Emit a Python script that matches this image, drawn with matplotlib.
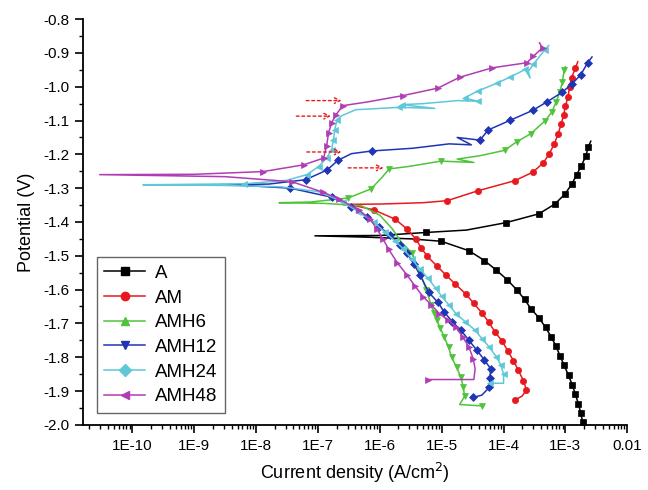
import numpy as np
import matplotlib
matplotlib.use('Agg')
import matplotlib.pyplot as plt
from matplotlib.lines import Line2D
from matplotlib.ticker import FixedLocator, FuncFormatter, MultipleLocator, LogLocator, NullFormatter

plt.rcParams['font.family'] = ['Liberation Sans', 'DejaVu Sans']

# values: log10(current density) and potential (V)
# each path: cathodic end -> corrosion potential tip -> anodic end
A_logi = [-2.72, -2.75, -2.79, -2.84, -2.89, -2.95, -3.02, -3.09, -3.15, -3.23, -3.32, -3.43,
          -3.56, -3.66, -3.79, -3.94, -4.12, -4.31, -4.56, -5.01, -5.50, -6.20, -7.05, -6.00,
          -5.25, -4.60, -3.96, -3.43, -3.17, -3.01, -2.90, -2.82, -2.74, -2.67, -2.63, -2.59]
A_E = [-1.993, -1.966, -1.938, -1.909, -1.881, -1.854, -1.824, -1.795, -1.768, -1.740, -1.712, -1.683,
       -1.656, -1.629, -1.600, -1.571, -1.542, -1.514, -1.485, -1.457, -1.450, -1.445, -1.441, -1.440,
       -1.431, -1.424, -1.402, -1.376, -1.347, -1.318, -1.289, -1.261, -1.233, -1.205, -1.178, -1.161]

AM_logi = [-3.81, -3.70, -3.63, -3.68, -3.76, -3.84, -3.93, -4.02, -4.14, -4.24, -4.35, -4.48,
           -4.61, -4.78, -4.93, -5.08, -5.24, -5.33, -5.42, -5.56, -5.75, -6.10, -6.40, -6.60,
           -6.00, -5.30, -4.91, -4.42, -3.82, -3.53, -3.36, -3.26, -3.18, -3.12, -3.07, -3.03,
           -3.00, -2.96, -2.93, -2.90, -2.84, -2.80]
AM_E = [-1.926, -1.915, -1.897, -1.869, -1.839, -1.810, -1.782, -1.753, -1.725, -1.696, -1.669, -1.641,
        -1.613, -1.584, -1.557, -1.530, -1.500, -1.477, -1.450, -1.421, -1.392, -1.364, -1.352, -1.348,
        -1.347, -1.343, -1.337, -1.308, -1.278, -1.253, -1.226, -1.198, -1.169, -1.141, -1.111, -1.085,
        -1.058, -1.030, -1.001, -0.973, -0.946, -0.926]

AMH6_logi = [-4.35, -4.71, -4.63, -4.65, -4.69, -4.76, -4.84, -4.89, -4.96, -5.02, -5.08, -5.12,
             -5.17, -5.25, -5.35, -5.48, -5.65, -5.80, -6.00, -6.30, -6.90, -7.63, -7.12, -6.51,
             -6.14, -5.96, -5.85, -5.54, -5.01, -4.48, -4.75, -4.38, -3.98, -3.79, -3.56, -3.33,
             -3.22, -3.15, -3.09, -3.05, -3.02, -3.00]
AMH6_E = [-1.944, -1.940, -1.916, -1.889, -1.859, -1.830, -1.800, -1.770, -1.740, -1.715, -1.690, -1.668,
          -1.646, -1.600, -1.550, -1.492, -1.460, -1.420, -1.380, -1.352, -1.345, -1.343, -1.341, -1.329,
          -1.302, -1.267, -1.243, -1.236, -1.220, -1.224, -1.214, -1.204, -1.188, -1.163, -1.139, -1.101,
          -1.075, -1.045, -1.015, -0.986, -0.951, -0.941]

AMH12_logi = [-4.49, -4.35, -4.23, -4.22, -4.21, -4.31, -4.43, -4.56, -4.69, -4.83, -4.96, -5.06,
              -5.21, -5.35, -5.45, -5.56, -5.68, -5.83, -6.01, -6.21, -6.46, -6.77, -7.45, -8.20,
              -8.70, -7.80, -7.20, -6.85, -6.68, -6.46, -6.13, -5.47, -4.88, -4.52, -4.75, -4.38,
              -4.25, -3.89, -3.53, -3.30, -3.05, -2.89, -2.75, -2.64, -2.57]
AMH12_E = [-1.919, -1.912, -1.889, -1.861, -1.834, -1.808, -1.780, -1.750, -1.720, -1.695, -1.666, -1.638,
           -1.608, -1.557, -1.525, -1.492, -1.467, -1.440, -1.414, -1.384, -1.355, -1.327, -1.300, -1.292,
           -1.290, -1.288, -1.275, -1.246, -1.218, -1.198, -1.190, -1.182, -1.169, -1.172, -1.150, -1.158,
           -1.128, -1.099, -1.070, -1.045, -1.016, -0.991, -0.964, -0.929, -0.912]

AMH24_logi = [-4.22, -4.00, -4.00, -4.04, -4.12, -4.23, -4.35, -4.46, -4.62, -4.77, -4.88, -5.00,
              -5.10, -5.22, -5.35, -5.48, -5.62, -5.76, -5.92, -6.10, -6.35, -6.60, -7.00, -7.60,
              -8.50, -9.83, -8.19, -7.51, -7.18, -6.99, -6.86, -6.78, -6.75, -6.73, -6.69, -6.62,
              -6.39, -5.69, -5.11, -5.64, -5.30, -4.74, -4.42, -4.63, -4.42, -4.10, -3.89, -3.65,
              -3.57, -3.60, -3.52, -3.33, -3.27]
AMH24_E = [-1.877, -1.877, -1.851, -1.824, -1.798, -1.770, -1.745, -1.720, -1.695, -1.671, -1.646, -1.620,
           -1.595, -1.567, -1.540, -1.510, -1.480, -1.455, -1.430, -1.400, -1.370, -1.340, -1.310, -1.296,
           -1.292, -1.290, -1.287, -1.277, -1.260, -1.236, -1.211, -1.186, -1.157, -1.127, -1.097, -1.086,
           -1.068, -1.061, -1.064, -1.053, -1.050, -1.041, -1.043, -1.033, -1.013, -0.989, -0.971, -0.949,
           -0.974, -0.955, -0.934, -0.890, -0.878]

AMH48_logi = [-5.22, -4.48, -4.46, -4.49, -4.56, -4.66, -4.77, -4.90, -5.04, -5.17, -5.30, -5.43,
              -5.56, -5.72, -5.86, -5.95, -6.05, -6.16, -6.33, -6.66, -6.92, -7.42, -8.50, -10.53,
              -9.00, -7.89, -7.23, -6.91, -6.86, -6.83, -6.78, -6.71, -6.60, -6.20, -5.62, -5.06,
              -4.71, -4.18, -3.62, -3.52, -3.37, -3.42]
AMH48_E = [-1.866, -1.866, -1.834, -1.805, -1.770, -1.740, -1.710, -1.690, -1.671, -1.645, -1.621, -1.590,
           -1.557, -1.520, -1.480, -1.450, -1.420, -1.391, -1.366, -1.332, -1.312, -1.281, -1.266, -1.260,
           -1.259, -1.251, -1.231, -1.211, -1.175, -1.137, -1.107, -1.083, -1.056, -1.045, -1.026, -1.004,
           -0.972, -0.944, -0.929, -0.910, -0.885, -0.870]

labels = ['A', 'AM', 'AMH6', 'AMH12', 'AMH24', 'AMH48']

# dashed arrows: (log10 start, log10 end, potential)
arrows_logi = [(-7.19, -6.62), (-7.35, -6.79), (-7.18, -6.62), (-6.51, -5.94)]
arrows_E = [-1.041, -1.087, -1.193, -1.240]

curves = [(A_logi, A_E), (AM_logi, AM_E), (AMH6_logi, AMH6_E),
          (AMH12_logi, AMH12_E), (AMH24_logi, AMH24_E), (AMH48_logi, AMH48_E)]
colors = ['#000000', '#e8191e', '#4fc43a', '#1f35b5', '#5ec8d8', '#b03db3']
plot_markers = ['s', 'o', 'v', 'D', '<', '>']
legend_markers = ['s', 'o', '^', 'v', 'D', '<']
# points of each path without a marker (tips and noise)
no_marker = [[20, 21, 22, 23, 25, 35],
             [1, 22, 23, 24, 25, 41],
             [1, 16, 17, 18, 19, 20, 21, 22, 25, 27, 29, 30, 31, 41],
             [1, 23, 24, 25, 29, 31, 32, 33, 34, 44],
             [1, 22, 23, 24, 25, 27, 35, 36, 38, 40, 41, 48, 49, 52],
             [1, 2, 22, 23, 24, 33, 41]]

fig = plt.figure(figsize=(6.48, 4.9), dpi=100)
ax = fig.add_axes([0.128, 0.133, 0.840, 0.828])

for (li, e), c, m, skip in zip(curves, colors, plot_markers, no_marker):
    every = [i for i in range(len(li)) if i not in skip]
    ax.plot(10 ** np.array(li), e, color=c, lw=1.1, marker=m, markersize=4.5,
            markevery=every, markeredgewidth=0.5)

for (l0, l1), e in zip(arrows_logi, arrows_E):
    ax.annotate('', xy=(10 ** l1, e), xytext=(10 ** l0, e),
                arrowprops=dict(arrowstyle='->', color='#e8191e', lw=1.0,
                                linestyle=(0, (2, 2)), shrinkA=0, shrinkB=0,
                                mutation_scale=10))

ax.set_xscale('log')
ax.set_xlim(10 ** -10.8, 1e-2)
ax.set_ylim(-2.0, -0.8)

ax.xaxis.set_major_locator(FixedLocator([1e-10, 1e-9, 1e-8, 1e-7, 1e-6, 1e-5, 1e-4, 1e-3, 1e-2]))
ax.xaxis.set_major_formatter(FuncFormatter(
    lambda v, p: '0.01' if v >= 0.009 else '1E%d' % round(np.log10(v))))
ax.xaxis.set_minor_locator(LogLocator(base=10, subs=np.arange(2, 10), numticks=30))
ax.xaxis.set_minor_formatter(NullFormatter())
ax.yaxis.set_major_locator(MultipleLocator(0.1))
ax.yaxis.set_minor_locator(MultipleLocator(0.05))
ax.yaxis.set_major_formatter(FuncFormatter(lambda v, p: '%.1f' % v))

ax.spines['top'].set_visible(False)
ax.spines['right'].set_visible(False)
ax.spines['left'].set_linewidth(1.3)
ax.spines['bottom'].set_linewidth(1.3)
ax.tick_params(which='major', direction='out', length=6, width=1.2, labelsize=11)
ax.tick_params(which='minor', direction='out', length=3, width=1.0)
ax.tick_params(axis='x', which='major', pad=4)

ax.set_xlabel('Current density (A/cm$^2$)', fontsize=13, labelpad=6)
ax.set_ylabel('Potential (V)', fontsize=13, labelpad=6)

handles = [Line2D([], [], color=c, marker=m, markersize=6, lw=1.1)
           for c, m in zip(colors, legend_markers)]
leg = ax.legend(handles, labels, loc='lower left', bbox_to_anchor=(0.025, 0.03),
                borderaxespad=0, fontsize=13.5, handlelength=2.2, handletextpad=0.5,
                labelspacing=0.4, fancybox=False, edgecolor='#666666', framealpha=1)
leg.get_frame().set_linewidth(1.0)

fig.savefig('out.png', dpi=100)
